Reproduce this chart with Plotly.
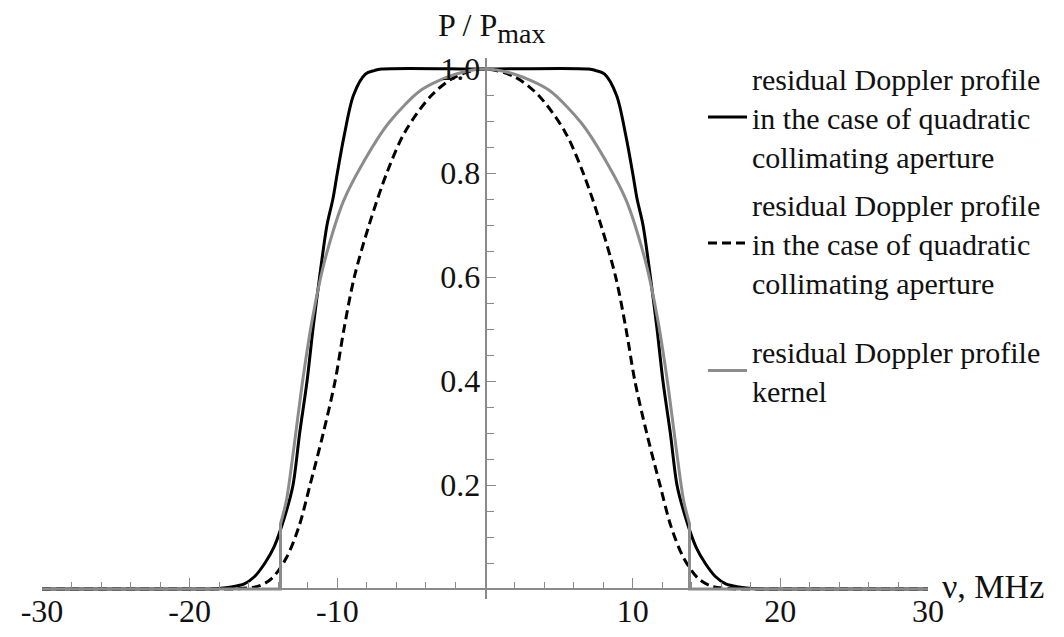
import plotly.graph_objects as go

# ---- data ----
solid_x = [-30, -18.5, -18.5, -17.2, -16.3, -15.6, -14.9, -14.3, -13.45, -13.0, -12.55, -12.05, -11.65,
           -11.2, -10.7, -10.3, -10.0, -9.55, -8.9, -8.1, -7.5, -7.0, 0,
           7.0, 7.5, 8.1, 8.9, 9.55, 10.0, 10.3, 10.7, 11.2, 11.65, 12.05, 12.55, 13.0, 13.45,
           14.3, 14.9, 15.6, 16.3, 17.2, 18.5, 18.5, 30]
solid_y = [0, 0, 0, 0.004, 0.01, 0.024, 0.05, 0.08, 0.15, 0.2, 0.3, 0.4, 0.5,
           0.6, 0.7, 0.75, 0.8, 0.87, 0.95, 0.99, 0.997, 1.0, 1.0,
           1.0, 0.997, 0.99, 0.95, 0.87, 0.8, 0.75, 0.7, 0.6, 0.5, 0.4, 0.3, 0.2, 0.15,
           0.08, 0.05, 0.024, 0.01, 0.004, 0, 0, 0]

dashed_x = [-30, -17, -17, -15.4, -14.45, -13.45, -12.6, -11.85, -10.95, -10.15, -9.55, -8.85, -7.85,
            -6.65, -5.4, -3.6, -2.0, 0, 2.0, 3.6, 5.4, 6.65, 7.85, 8.85, 9.55, 10.15, 10.95,
            11.85, 12.6, 13.45, 14.45, 15.4, 17, 17, 30]
dashed_y = [0, 0, 0, 0.005, 0.02, 0.06, 0.12, 0.2, 0.3, 0.4, 0.5, 0.6, 0.7,
            0.8, 0.88, 0.95, 0.985, 1.0, 0.985, 0.95, 0.88, 0.8, 0.7, 0.6, 0.5, 0.4, 0.3,
            0.2, 0.12, 0.06, 0.02, 0.005, 0, 0, 0]

kernel_x = [-30, -13.85, -13.85, -13.85, -13.85, -13.45, -12.95, -12.4, -11.75, -11.2, -10.7, -9.6, -8.35, -6.5,
            -4.3, -2.0, 0, 2.0, 4.3, 6.5, 8.35, 9.6, 10.7, 11.2, 11.75, 12.4, 12.95, 13.45,
            13.85, 13.85, 13.85, 13.85, 30]
kernel_y = [0, 0, 0, 0.125, 0.125, 0.17, 0.27, 0.39, 0.51, 0.59, 0.648, 0.745, 0.815, 0.897,
            0.96, 0.99, 1.0, 0.99, 0.96, 0.897, 0.815, 0.745, 0.648, 0.59, 0.51, 0.39, 0.27, 0.17,
            0.125, 0.125, 0, 0, 0]

x_tickvals = [-30, -20, -10, 10, 20, 30]
x_ticktext = ["-30", "-20", "-10", "10", "20", "30"]
y_tickvals = [0.2, 0.4, 0.6, 0.8, 1.0]
y_ticktext = ["0.2", "0.4", "0.6", "0.8", "1.0"]

names = [
    "residual Doppler profile<br>in the case of quadratic<br>collimating aperture",
    "residual Doppler profile<br>in the case of quadratic<br>collimating aperture",
    "residual Doppler profile<br>kernel",
]

W, H = 1064, 637
OFF = 8  # page body margin in the browser
FONT = "Liberation Serif, Times New Roman, serif"
AX = "#8a8a8a"
TXT = "#111111"
LFS = 30

fig = go.Figure()
fig.add_trace(go.Scatter(x=solid_x, y=solid_y, mode="lines", name=names[0], legend="legend",
                         line=dict(color="black", width=3, shape="spline", smoothing=0.9)))
fig.add_trace(go.Scatter(x=dashed_x, y=dashed_y, mode="lines", name=names[1], legend="legend2",
                         line=dict(color="black", width=3, dash="9px,5px", shape="spline", smoothing=0.9)))
fig.add_trace(go.Scatter(x=kernel_x, y=kernel_y, mode="lines", name=names[2], legend="legend3",
                         line=dict(color="#8c8c8c", width=3, shape="spline", smoothing=0.8)))

# pixel geometry (target pixels minus body offset)
x0_px, x1_px = 42 - OFF, 928 - OFF
y_zero_px = 589 - OFF
y_unit_px = 520
y_lo, y_hi = -0.02, 1.021
top_px = y_zero_px - y_hi * y_unit_px
bot_px = y_zero_px - y_lo * y_unit_px


def leg(top_target):
    return dict(x=(703 - OFF) / W, y=1 - (top_target - OFF) / H, xanchor="left", yanchor="top",
                bgcolor="rgba(0,0,0,0)", font=dict(family=FONT, size=LFS, color=TXT),
                itemwidth=39, valign="middle")


fig.update_layout(
    width=W, height=H, autosize=False,
    margin=dict(l=0, r=0, t=0, b=0, pad=0, autoexpand=False),
    plot_bgcolor="white", paper_bgcolor="white",
    font=dict(family=FONT, size=32, color=TXT),
    showlegend=True,
    legend=leg(52),
    legend2=leg(178),
    legend3=leg(325),
    xaxis=dict(range=[-30, 30], domain=[x0_px / W, x1_px / W], anchor="free",
               position=1 - y_zero_px / H, automargin=False,
               showgrid=False, zeroline=False, showline=True, linecolor=AX, linewidth=1.5,
               tickmode="array", tickvals=x_tickvals, ticktext=x_ticktext,
               ticks="inside", ticklen=10, tickwidth=1.2, tickcolor=AX,
               ticklabelstandoff=-6,
               minor=dict(dtick=2, tick0=0, ticks="inside", ticklen=6, tickwidth=1.2, tickcolor=AX)),
    yaxis=dict(range=[y_lo, y_hi], domain=[1 - bot_px / H, 1 - top_px / H], anchor="free",
               position=(485.5 - OFF) / W, automargin=False,
               showgrid=False, zeroline=False, showline=True, linecolor=AX, linewidth=1.5,
               tickmode="array", tickvals=y_tickvals, ticktext=y_ticktext,
               ticks="inside", ticklen=10, tickwidth=1.2, tickcolor=AX,
               ticklabelstandoff=-2,
               minor=dict(dtick=0.05, tick0=0, ticks="inside", ticklen=8, tickwidth=1.2, tickcolor=AX)),
)

fig.add_annotation(text="P / P<sub><span style='font-size:28px'>max</span></sub>", xref="paper", yref="paper",
                   x=(492 - OFF) / W, y=1 - (28 - OFF) / H, xanchor="center", yanchor="middle", showarrow=False,
                   font=dict(family=FONT, size=32, color=TXT))
fig.add_annotation(text="ν, MHz", xref="paper", yref="paper",
                   x=(940 - OFF) / W, y=1 - (586 - OFF) / H, xanchor="left", yanchor="middle", showarrow=False,
                   font=dict(family=FONT, size=34, color=TXT))

fig.write_html("out.html")
